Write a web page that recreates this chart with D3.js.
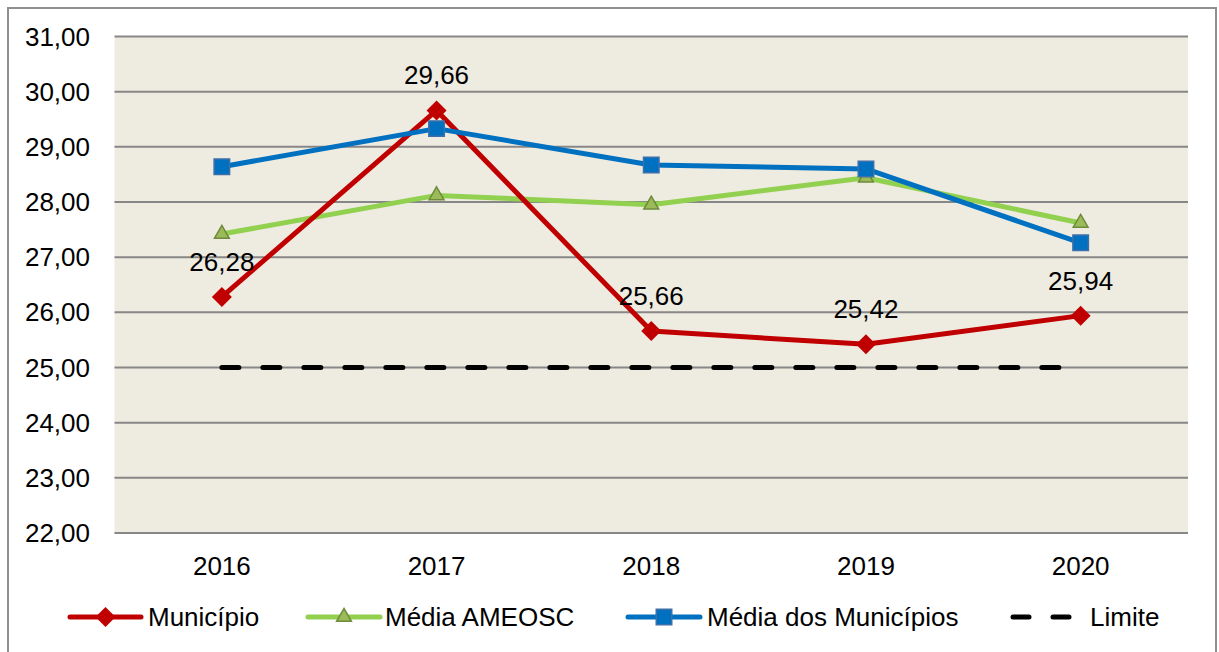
<!DOCTYPE html>
<html>
<head>
<meta charset="utf-8">
<script src="https://cdn.jsdelivr.net/npm/d3@7"></script>
<style>
  body { margin: 0; background: #fff; }
  text { font-family: "Liberation Sans", Arial, sans-serif; fill: #000; }
</style>
</head>
<body>
<div id="chart"></div>
<script>
// data
const years = ['2016', '2017', '2018', '2019', '2020'];
const municipio = [26.28, 29.66, 25.66, 25.42, 25.94];
const mediaAmeosc = [27.42, 28.12, 27.95, 28.44, 27.62];
const mediaMunicipios = [28.64, 29.33, 28.67, 28.60, 27.26];
const limite = [25, 25, 25, 25, 25];
const yTicks = [22, 23, 24, 25, 26, 27, 28, 29, 30, 31];

const W = 1219, H = 652;
const plot = { left: 114.5, right: 1188, top: 36.5, bottom: 533 };

const ptBR = d3.formatLocale({ decimal: ',', thousands: '.', grouping: [3], currency: ['R$', ''] });
const fmt = ptBR.format('.2f');

const svg = d3.select('#chart').append('svg')
  .attr('width', W)
  .attr('height', H);

svg.append('rect').attr('width', W).attr('height', H).attr('fill', '#fff');

// outer frame (bottom edge falls outside the picture)
svg.append('rect')
  .attr('x', 8).attr('y', 8)
  .attr('width', 1208).attr('height', 680)
  .attr('fill', 'none')
  .attr('stroke', '#8f8f8f')
  .attr('stroke-width', 2);

//scales
const x = d3.scalePoint()
  .domain(years)
  .range([plot.left, plot.right])
  .padding(0.5);

const y = d3.scaleLinear()
  .domain([22, 31])
  .range([plot.bottom, plot.top]);

// plot background
svg.append('rect')
  .attr('x', plot.left).attr('y', plot.top)
  .attr('width', plot.right - plot.left)
  .attr('height', plot.bottom - plot.top)
  .attr('fill', '#EEEBE0');

// gridlines
svg.append('g').selectAll('line')
  .data(yTicks)
  .join('line')
  .attr('x1', plot.left).attr('x2', plot.right)
  .attr('y1', d => y(d)).attr('y2', d => y(d))
  .attr('stroke', '#878787')
  .attr('stroke-width', 2);

// y axis labels
svg.append('g').selectAll('text')
  .data(yTicks)
  .join('text')
  .attr('x', 90)
  .attr('y', d => y(d))
  .attr('dy', '0.35em')
  .attr('text-anchor', 'end')
  .attr('font-size', '26px')
  .text(d => fmt(d));

// x axis labels
svg.append('g').selectAll('text')
  .data(years)
  .join('text')
  .attr('x', d => x(d))
  .attr('y', 575)
  .attr('text-anchor', 'middle')
  .attr('font-size', '26px')
  .text(d => d);

const line = d3.line()
  .x((d, i) => x(years[i]))
  .y(d => y(d));

const diamond = d3.symbol().type(d3.symbolSquare).size(200);
const square = d3.symbol().type(d3.symbolSquare).size(240);
const triangle = d3.symbol().type(d3.symbolTriangle).size(95);

const series = [
  { name: 'Média AMEOSC', values: mediaAmeosc, color: '#92D050', marker: 'triangle' },
  { name: 'Município', values: municipio, color: '#C00000', marker: 'diamond' },
  { name: 'Média dos Municípios', values: mediaMunicipios, color: '#0070C0', marker: 'square' }
];

function drawMarker(sel, type, color) {
  if (type === 'diamond') {
    sel.append('path')
      .attr('d', diamond)
      .attr('transform', s => s + ' rotate(45)')
      .attr('fill', color);
  }
}

function addMarker(g, type, cx, cy) {
  if (type === 'diamond') {
    g.append('path')
      .attr('d', diamond)
      .attr('transform', `translate(${cx},${cy}) rotate(45)`)
      .attr('fill', '#C00000');
  } else if (type === 'square') {
    g.append('path')
      .attr('d', square)
      .attr('transform', `translate(${cx},${cy})`)
      .attr('fill', '#0070C0')
      .attr('stroke', '#3f6fa8')
      .attr('stroke-width', 1.5);
  } else {
    g.append('path')
      .attr('d', triangle)
      .attr('transform', `translate(${cx},${cy})`)
      .attr('fill', '#9BBB59')
      .attr('stroke', '#6f8a3a')
      .attr('stroke-width', 1.5);
  }
}

// limit line
svg.append('path')
  .attr('d', line(limite))
  .attr('fill', 'none')
  .attr('stroke', '#000')
  .attr('stroke-width', 5)
  .attr('stroke-linecap', 'round')
  .attr('stroke-dasharray', '17,24');

series.forEach(s => {
  const g = svg.append('g');
  g.append('path')
    .attr('d', line(s.values))
    .attr('fill', 'none')
    .attr('stroke', s.color)
    .attr('stroke-width', 5)
    .attr('stroke-linejoin', 'round');
  s.values.forEach((v, i) => addMarker(g, s.marker, x(years[i]), y(v)));
});

// data labels for Município
svg.append('g').selectAll('text')
  .data(municipio)
  .join('text')
  .attr('x', (d, i) => x(years[i]))
  .attr('y', d => y(d) - 26)
  .attr('text-anchor', 'middle')
  .attr('font-size', '26px')
  .text(d => fmt(d));

//Legend
const legendY = 617;
const legendItems = [
  { name: 'Município', marker: 'diamond', color: '#C00000', x0: 70, x1: 141, tx: 148 },
  { name: 'Média AMEOSC', marker: 'triangle', color: '#92D050', x0: 308, x1: 380, tx: 385 },
  { name: 'Média dos Municípios', marker: 'square', color: '#0070C0', x0: 628, x1: 700, tx: 707 },
  { name: 'Limite', marker: null, color: '#000', x0: 1013, x1: 1072, tx: 1090 }
];

legendItems.forEach(item => {
  const g = svg.append('g');
  const ln = g.append('line')
    .attr('x1', item.x0).attr('x2', item.x1)
    .attr('y1', legendY).attr('y2', legendY)
    .attr('stroke', item.color)
    .attr('stroke-width', 5)
    .attr('stroke-linecap', 'round');
  if (item.marker) {
    addMarker(g, item.marker, (item.x0 + item.x1) / 2, legendY);
  } else {
    ln.attr('stroke-dasharray', '16,24');
  }
  g.append('text')
    .attr('x', item.tx)
    .attr('y', legendY)
    .attr('dy', '0.35em')
    .attr('font-size', '26px')
    .text(item.name);
});
</script>
</body>
</html>
